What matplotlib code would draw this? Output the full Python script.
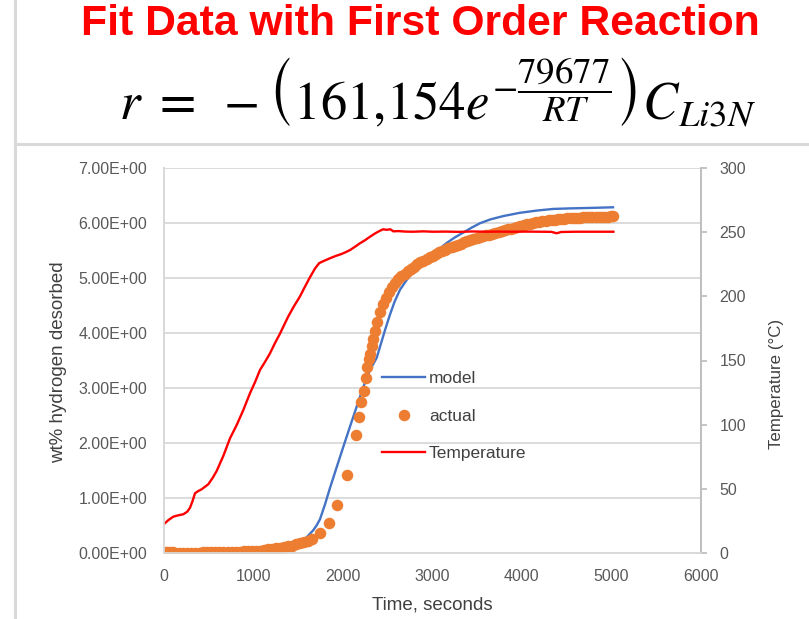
import matplotlib

matplotlib.use("Agg")
import matplotlib.pyplot as plt
from matplotlib.lines import Line2D

time_actual = [0, 30, 65, 100, 170, 215, 260, 305, 350, 395, 440, 485, 530, 575, 620, 665,
               710, 755, 800, 845, 890, 935, 980, 1025, 1070, 1115, 1160, 1205, 1250, 1295,
               1340, 1385, 1430, 1475, 1520, 1565, 1610, 1651, 1744, 1845, 1938, 2042, 2143,
               2177, 2202, 2239, 2258, 2273, 2290, 2303, 2320, 2340, 2359, 2385, 2415, 2445,
               2480, 2515, 2550, 2585, 2620, 2655, 2690, 2725, 2760, 2795, 2830, 2865, 2900,
               2935, 2970, 3005, 3040, 3075, 3110, 3145, 3180, 3215, 3250, 3285, 3320, 3355,
               3390, 3425, 3460, 3495, 3530, 3565, 3600, 3635, 3670, 3705, 3740, 3775, 3810,
               3845, 3880, 3915, 3950, 3985, 4020, 4055, 4090, 4125, 4160, 4195, 4230, 4265,
               4300, 4335, 4370, 4405, 4440, 4475, 4510, 4545, 4580, 4615, 4650, 4685, 4720,
               4755, 4790, 4825, 4860, 4895, 4930, 4965, 5000, 5020]
wt_actual = [0.02, 0.02, 0.02, 0.02, 0.00, 0.00, 0.00, 0.00, 0.00, 0.00, 0.01, 0.01, 0.01,
             0.01, 0.01, 0.01, 0.02, 0.02, 0.02, 0.02, 0.03, 0.03, 0.03, 0.04, 0.04, 0.05,
             0.06, 0.07, 0.08, 0.09, 0.10, 0.12, 0.13, 0.15, 0.17, 0.19, 0.22, 0.25, 0.36,
             0.54, 0.87, 1.42, 2.14, 2.48, 2.74, 2.95, 3.18, 3.38, 3.52, 3.62, 3.76, 3.90,
             4.04, 4.20, 4.38, 4.52, 4.64, 4.75, 4.84, 4.91, 4.98, 5.03, 5.08, 5.13, 5.17,
             5.21, 5.25, 5.29, 5.32, 5.35, 5.38, 5.41, 5.44, 5.47, 5.50, 5.52, 5.54, 5.57,
             5.59, 5.61, 5.63, 5.65, 5.67, 5.69, 5.71, 5.73, 5.75, 5.76, 5.78, 5.79, 5.81,
             5.82, 5.84, 5.86, 5.87, 5.89, 5.90, 5.92, 5.93, 5.95, 5.96, 5.98, 5.99, 6.00,
             6.02, 6.03, 6.04, 6.04, 6.05, 6.06, 6.06, 6.07, 6.08, 6.08, 6.09, 6.09, 6.10,
             6.10, 6.10, 6.11, 6.11, 6.11, 6.11, 6.12, 6.12, 6.12, 6.12, 6.12, 6.13, 6.13]

# first order model (blue line)
time_model = [0, 400, 800, 1100, 1300, 1450, 1530, 1595, 1669, 1707, 1744, 1800, 1856,
              1931, 2005, 2080, 2154, 2229, 2303, 2378, 2415, 2470, 2527, 2580, 2639,
              2710, 2787, 2880, 2974, 3070, 3160, 3250, 3346, 3440, 3533, 3650, 3793,
              3980, 4166, 4350, 4539, 4800, 5020]
wt_model = [0.00, 0.00, 0.01, 0.03, 0.07, 0.14, 0.20, 0.28, 0.41, 0.50, 0.61, 0.88, 1.18,
            1.56, 1.93, 2.30, 2.66, 3.02, 3.33, 3.55, 3.75, 4.05, 4.34, 4.58, 4.79, 4.96,
            5.12, 5.27, 5.39, 5.52, 5.64, 5.74, 5.83, 5.92, 6.00, 6.07, 6.13, 6.19, 6.23,
            6.26, 6.27, 6.28, 6.29]

# furnace temperature (red line, right axis)
time_temp = [0, 50, 104, 160, 216, 260, 291, 320, 347, 380, 421, 495, 545, 589, 663, 738,
             813, 887, 961, 1020, 1073, 1130, 1185, 1240, 1297, 1345, 1390, 1450, 1520,
             1575, 1632, 1690, 1735, 1780, 1856, 1920, 1980, 2030, 2080, 2140, 2191, 2250,
             2303, 2360, 2415, 2450, 2490, 2530, 2564, 2620, 2700, 2787, 2900, 3000, 3150,
             3300, 3450, 3600, 3750, 3900, 4050, 4200, 4330, 4390, 4440, 4600, 4800, 5024]
temp_c = [22.4, 25.5, 28.1, 29.2, 30.0, 32.0, 35.1, 40.5, 46.4, 48.0, 49.5, 53.4, 58.5,
          63.8, 75.5, 89.3, 99.7, 111.4, 124.4, 133.5, 142.6, 149.0, 155.6, 163.5, 171.0,
          178.0, 184.5, 192.0, 200.0, 207.5, 215.0, 222.0, 226.0, 227.5, 229.8, 231.6,
          233.0, 234.5, 236.2, 239.0, 241.5, 244.0, 246.6, 249.2, 251.3, 252.4, 252.0,
          252.4, 250.8, 251.0, 250.6, 250.5, 250.8, 250.5, 250.6, 250.4, 250.7, 250.5,
          250.6, 250.5, 250.6, 250.5, 250.4, 249.3, 250.3, 250.5, 250.5, 250.5]

x_ticks = [0, 1000, 2000, 3000, 4000, 5000, 6000]
left_ticks = [0, 1, 2, 3, 4, 5, 6, 7]
left_labels = ["0.00E+00", "1.00E+00", "2.00E+00", "3.00E+00",
               "4.00E+00", "5.00E+00", "6.00E+00", "7.00E+00"]
right_ticks = [0, 50, 100, 150, 200, 250, 300]

BLUE = "#4472C4"
ORANGE = "#ED7D31"
RED = "#FF0000"
GRID = "#d9d9d9"
TXT = "#595959"

plt.rcParams["font.family"] = ["Liberation Sans", "DejaVu Sans"]
plt.rcParams["mathtext.fontset"] = "stix"

W, H = 809, 619
fig = plt.figure(figsize=(W / 100, H / 100), dpi=100)

# card borders
fig.add_artist(Line2D([14.5 / W, 14.5 / W], [0, 1], color=GRID, lw=2.2))
fig.add_artist(Line2D([14.5 / W, 1], [1 - 144 / H, 1 - 144 / H], color=GRID, lw=2.2))

ax = fig.add_axes([164 / W, 1 - 552.7 / H, (700.7 - 164) / W, (552.7 - 168.3) / H])
ax2 = ax.twinx()

ax.plot(time_model, wt_model, color=BLUE, lw=1.7, zorder=3)
ax.plot(time_actual, wt_actual, ls="none", marker="o", ms=8.3, mfc=ORANGE, mec=ORANGE,
        mew=0, zorder=4)
ax2.plot(time_temp, temp_c, color=RED, lw=1.7)

ax.set_xlim(0, 6000)
ax.set_ylim(0, 7)
ax2.set_ylim(0, 300)
ax.set_xticks(x_ticks)
ax.set_yticks(left_ticks)
ax.set_yticklabels(left_labels)
ax2.set_yticks(right_ticks)

ax.grid(True, axis="y", color=GRID, lw=1.3)
ax.set_axisbelow(True)
for a in (ax, ax2):
    a.spines["top"].set_visible(False)
    a.spines["left"].set_color(GRID)
    a.spines["bottom"].set_color(GRID)
    a.spines["right"].set_color("#bfbfbf")
    for s in a.spines.values():
        s.set_linewidth(1.3)
ax.tick_params(axis="y", length=0, pad=12, labelsize=11.5, labelcolor=TXT)
ax.tick_params(axis="x", length=0, pad=12, labelsize=11.5, labelcolor=TXT)
ax2.tick_params(axis="y", length=4.5, width=1.3, color="#bfbfbf", pad=9,
                labelsize=11.5, labelcolor=TXT)

fig.text(59 / W, 1 - 362 / H, "wt% hydrogen desorbed", rotation=90, ha="center",
         va="center", fontsize=13.5, color="#404040")
fig.text(432 / W, 1 - 605 / H, "Time, seconds", ha="center", va="center",
         fontsize=13.5, color="#404040")
fig.text(776 / W, 1 - 384 / H, "Temperature (°C)", rotation=90, ha="center",
         va="center", fontsize=12.2, color="#404040")

fig.text(420 / W, 1 - 24 / H, "Fit Data with First Order Reaction", ha="center",
         va="center", fontsize=30.8, fontweight="bold", color=RED)
fig.text(438 / W, 1 - 94 / H,
         r"$r\ =\ -\left(161{,}154e^{-\dfrac{79677}{RT}}\right)C_{Li3N}$",
         ha="center", va="center", fontsize=38, color="black")

handles = [
    Line2D([], [], color=BLUE, lw=1.7),
    Line2D([], [], ls="none", marker="o", ms=8.3, mfc=ORANGE, mec=ORANGE, mew=0),
    Line2D([], [], color=RED, lw=1.7),
]
fig.legend(handles, ["model", "actual", "Temperature"], loc="center left",
           bbox_to_anchor=(382 / W, 1 - 416 / H), frameon=False, fontsize=12.5,
           handlelength=2.5, handletextpad=0.2, labelspacing=1.3, borderpad=0,
           borderaxespad=0, labelcolor="#404040")

fig.savefig("out.png", dpi=100)
